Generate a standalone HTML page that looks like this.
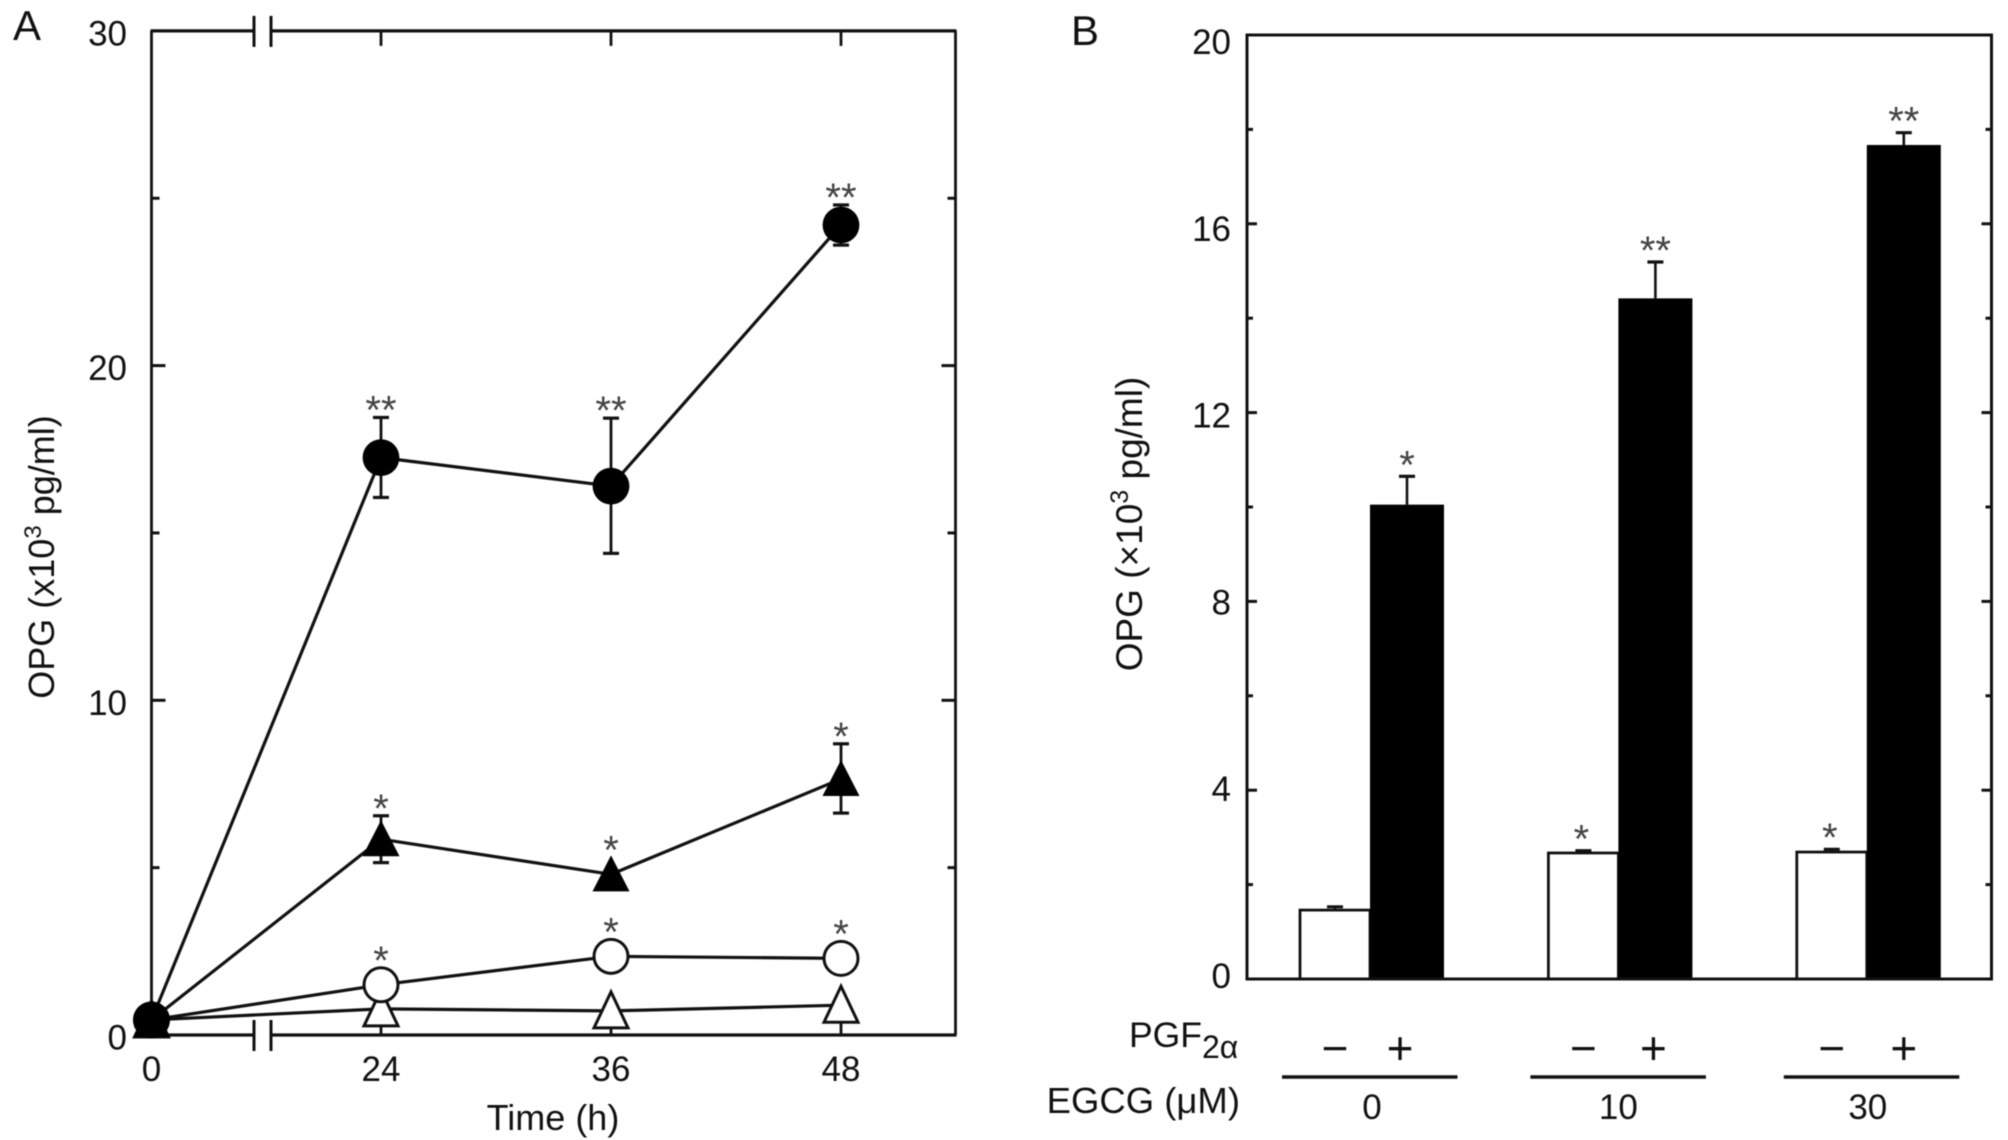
<!DOCTYPE html>
<html lang="en">
<head>
<meta charset="utf-8">
<title>OPG release charts</title>
<style>
html,body{margin:0;padding:0;background:#fff;width:2008px;height:1140px;overflow:hidden}
svg{display:block;filter:blur(0.5px)}
text{font-family:"Liberation Sans",sans-serif;fill:#111}
</style>
</head>
<body>
<svg id="figure" xmlns="http://www.w3.org/2000/svg" width="2008" height="1140" viewBox="0 0 2008 1140">
<rect width="2008" height="1140" fill="#fff"/>
<text x="13" y="40" font-size="42">A</text>
<text x="1071" y="45" font-size="42">B</text>
<text transform="translate(54,557) rotate(-90)" text-anchor="middle" font-size="36">OPG (x10<tspan font-size="24" dy="-13">3</tspan><tspan dy="13"> pg/ml)</tspan></text>
<text x="553" y="1130" text-anchor="middle" font-size="36">Time (h)</text>
<text transform="translate(1142,524) rotate(-90)" text-anchor="middle" font-size="37">OPG (×10<tspan font-size="25" dy="-14">3</tspan><tspan dy="14"> pg/ml)</tspan></text>
<text x="1129" y="1047" font-size="35.5">PGF<tspan font-size="32" dy="11">2α</tspan></text>
<text x="1240" y="1113" text-anchor="end" font-size="36.5">EGCG (μM)</text>
</svg>
<script>
// Panel A data
const timePoints = [0, 24, 36, 48];
const openTriangleValues = [0.45, 0.78, 0.72, 0.89];
const openCircleValues = [0.45, 1.5, 2.35, 2.29];
const filledTriangleValues = [0.45, 5.85, 4.8, 7.65];
const filledCircleValues = [0.45, 17.25, 16.4, 24.2];
const filledTriangleHigh = [null, 6.55, null, 8.7];
const filledTriangleLow = [null, 5.15, null, 6.63];
const filledCircleHigh = [null, 18.45, 18.43, 24.8];
const filledCircleLow = [null, 16.06, 14.39, 23.6];
const openCircleStars = ['', '*', '*', '*'];
const filledTriangleStars = ['', '*', '*', '*'];
const filledCircleStars = ['', '**', '**', '**'];
const panelAMajorTicks = [0, 10, 20, 30];
const panelAMinorTicks = [5, 15, 25];
const panelATimeTicks = [0, 24, 36, 48];

// Panel B data
const groupLabels = ['0', '10', '30'];
const whiteBarValues = [1.46, 2.67, 2.69];
const blackBarValues = [10.05, 14.42, 17.67];
const whiteBarHigh = [1.53, 2.72, 2.75];
const blackBarHigh = [10.65, 15.19, 17.93];
const whiteBarStars = ['', '*', '*'];
const blackBarStars = ['*', '**', '**'];
const panelBMajorTicks = [0, 4, 8, 12, 16, 20];
const panelBMinorTicks = [2, 6, 10, 14, 18];

const svg = document.getElementById('figure');
const NS = 'http://www.w3.org/2000/svg';
function mk(tag, attrs, text) {
  const el = document.createElementNS(NS, tag);
  for (const k in attrs) el.setAttribute(k, attrs[k]);
  if (text !== undefined) el.textContent = text;
  svg.appendChild(el);
  return el;
}
function seg(x1, y1, x2, y2, w) {
  return mk('line', {x1: x1, y1: y1, x2: x2, y2: y2, stroke: '#111', 'stroke-width': w});
}

// ---------- Panel A axes ----------
const aL = 151.5, aR = 955.5;
function ax(t) { return t === 0 ? aL : 381 + (t - 24) * (230 / 12); }
function ay(v) { return 1035 - v * 33.47; }
const breakX1 = 254, breakX2 = 271;

let el;
el = seg(aL, ay(30), aL, ay(0), 2.8);


el = seg(aR, ay(30), aR, ay(0), 2.8);


[ay(30), ay(0)].forEach(function (y) {
  let ln = seg(aL - 1, y, breakX1, y, 3.2);
  
  
  ln = seg(breakX2, y, aR + 1, y, 3.2);
  
  
  [breakX1, breakX2].forEach(function (bx) {
    const b = seg(bx, y - 15, bx, y + 16, 3);
    
    
  });
});
panelAMajorTicks.forEach(function (v) {
  const y = ay(v);
  if (v > 0 && v < 30) {
    let t = seg(aL, y, aL + 14, y, 3);
    
    
    t = seg(aR, y, aR - 14, y, 3);
    
    
  }
  const lab = mk('text', {x: 127, y: y + 14.5, 'text-anchor': 'end', 'font-size': 35}, String(v));
  
  
});
panelAMinorTicks.forEach(function (v) {
  const y = ay(v);
  let t = seg(aL, y, aL + 8, y, 3);
  
  
  t = seg(aR, y, aR - 8, y, 3);
  
  
});
panelATimeTicks.forEach(function (t0) {
  const x = ax(t0);
  if (t0 > 0) {
    let t = seg(x, ay(30), x, ay(30) + 15, 2.8);
    
    
    t = seg(x, ay(0), x, ay(0) - 15, 2.8);
    
    
  }
  const lab = mk('text', {x: x, y: 1081, 'text-anchor': 'middle', 'font-size': 35}, String(t0));
  
  
});

// ---------- Panel A series ----------
function drawLine(values, name) {
  const pts = values.map(function (v, i) { return ax(timePoints[i]) + ',' + ay(v); }).join(' ');
  const p = mk('polyline', {points: pts, fill: 'none', stroke: '#111', 'stroke-width': 3.2, 'stroke-linejoin': 'round'});
  
  
}
function drawErrors(values, hi, lo, name) {
  values.forEach(function (v, i) {
    if (hi[i] === null) return;
    const x = ax(timePoints[i]);
    const s = seg(x, ay(hi[i]), x, ay(lo[i]), 2.8);
    
    
    [hi[i], lo[i]].forEach(function (e) {
      const c = seg(x - 8, ay(e), x + 8, ay(e), 3.2);
      
      
    });
  });
}
function drawCircles(values, filled, name) {
  values.forEach(function (v, i) {
    const c = mk('circle', {cx: ax(timePoints[i]), cy: ay(v), r: filled ? 18.4 : 17,
      fill: filled ? '#000' : '#fff', stroke: filled ? 'none' : '#111', 'stroke-width': 3});
    
    
  });
}
function drawTriangles(values, filled, name) {
  values.forEach(function (v, i) {
    const x = ax(timePoints[i]), y = ay(v);
    const h = filled ? 18.5 : 17;
    const pts = (x - h) + ',' + (y + 17) + ' ' + (x + h) + ',' + (y + 17) + ' ' + x + ',' + (y - 19);
    const c = mk('polygon', {points: pts, fill: filled ? '#000' : '#fff',
      stroke: filled ? 'none' : '#111', 'stroke-width': 3, 'stroke-linejoin': 'miter'});
    
    
  });
}
function drawStars(values, hi, stars, name) {
  stars.forEach(function (s, i) {
    if (!s) return;
    const top = Math.min(hi && hi[i] !== null ? ay(hi[i]) : 9999, ay(values[i]) - 17);
    const t = mk('text', {x: ax(timePoints[i]), y: top + 6, 'text-anchor': 'middle', 'font-size': 40}, s);
    t.style.fill = '#444';
    
    
  });
}

drawErrors(filledCircleValues, filledCircleHigh, filledCircleLow, 'filled-circle-error-bar');
drawErrors(filledTriangleValues, filledTriangleHigh, filledTriangleLow, 'filled-triangle-error-bar');
drawLine(openTriangleValues, 'open-triangle-line');
drawLine(openCircleValues, 'open-circle-line');
drawLine(filledTriangleValues, 'filled-triangle-line');
drawLine(filledCircleValues, 'filled-circle-line');
drawTriangles(openTriangleValues, false, 'open-triangle-point');
drawCircles(openCircleValues, false, 'open-circle-point');
drawTriangles(filledTriangleValues, true, 'filled-triangle-point');
drawCircles(filledCircleValues, true, 'filled-circle-point');
drawStars(openCircleValues, null, openCircleStars, 'open-circle-significance');
drawStars(filledTriangleValues, filledTriangleHigh, filledTriangleStars, 'filled-triangle-significance');
drawStars(filledCircleValues, filledCircleHigh, filledCircleStars, 'filled-circle-significance');

// ---------- Panel B ----------
const bL = 1247, bR = 1991.5;
function by(v) { return 979 - v * 47.2; }
const groupStart = 1300, groupStep = 248.4, whiteW = 70, blackW = 74;
const plusNudge = [-7, -2, 0];
const underlineNudge = [0, 0, 5];
const doseNudge = [2, 0, 1];

panelBMajorTicks.forEach(function (v) {
  const y = by(v);
  let t = seg(bL, y, bL + 10, y, 3);
  
  
  t = seg(bR, y, bR - 10, y, 3);
  
  
  const lab = mk('text', {x: 1231, y: y + 9 + v * 0.5, 'text-anchor': 'end', 'font-size': 35}, String(v));
  
  
});
panelBMinorTicks.forEach(function (v) {
  const y = by(v);
  let t = seg(bL, y, bL + 6, y, 3);
  
  
  t = seg(bR, y, bR - 6, y, 3);
  
  
});

groupLabels.forEach(function (g, i) {
  const x0 = groupStart + i * groupStep;
  const wc = x0 + whiteW / 2, bc = x0 + whiteW + blackW / 2;

  // error bars
  let s = seg(wc, by(whiteBarValues[i]), wc, by(whiteBarHigh[i]), 2.4);
  
  
  s = seg(wc - 8, by(whiteBarHigh[i]), wc + 8, by(whiteBarHigh[i]), 3);
  
  
  s = seg(bc, by(blackBarValues[i]), bc, by(blackBarHigh[i]), 2.6);
  
  
  s = seg(bc - 8, by(blackBarHigh[i]), bc + 8, by(blackBarHigh[i]), 3.2);
  
  

  // bars
  const wb = mk('rect', {x: x0, y: by(whiteBarValues[i]), width: whiteW, height: by(0) - by(whiteBarValues[i]), fill: '#fff', stroke: '#111', 'stroke-width': 2.8});
  
  
  const bb = mk('rect', {x: x0 + whiteW, y: by(blackBarValues[i]), width: blackW, height: by(0) - by(blackBarValues[i]), fill: '#000'});
  
  

  // stars
  if (whiteBarStars[i]) {
    const st = mk('text', {x: wc - 2, y: by(whiteBarHigh[i]) + 2, 'text-anchor': 'middle', 'font-size': 40}, whiteBarStars[i]);
    st.style.fill = '#444';
    
    
  }
  if (blackBarStars[i]) {
    const st = mk('text', {x: bc, y: by(blackBarHigh[i]) + 2, 'text-anchor': 'middle', 'font-size': 40}, blackBarStars[i]);
    st.style.fill = '#444';
    
    
  }

  // treatment rows
  const minus = mk('text', {x: wc, y: 1064, 'text-anchor': 'middle', 'font-size': 46}, '−');
  
  
  const plus = mk('text', {x: bc + plusNudge[i], y: 1064, 'text-anchor': 'middle', 'font-size': 46}, '+');
  
  
  const under = seg(x0 - 18 + underlineNudge[i], 1077, x0 + 157.5 + underlineNudge[i], 1077, 3.6);
  
  
  const gl = mk('text', {x: x0 + 70 + doseNudge[i], y: 1119, 'text-anchor': 'middle', 'font-size': 35}, g);
  
  
});

el = mk('rect', {x: bL, y: by(20), width: bR - bL, height: by(0) - by(20), fill: 'none', stroke: '#111', 'stroke-width': 3});


</script>
</body>
</html>
